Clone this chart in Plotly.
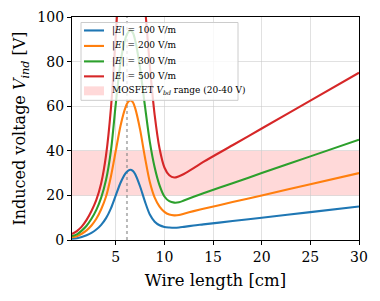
import plotly.graph_objects as go

wire_len = [0.5, 1, 1.5, 2, 2.5, 3, 3.5, 4, 4.5, 5, 5.5, 6, 6.25, 6.5, 6.75, 7, 7.5, 8, 8.5, 9, 9.5, 10, 10.5, 11, 11.5, 12, 13, 14, 17, 20, 25, 30]
v_100 = [0.55, 0.8, 1.35, 2.1, 3.2, 4.7, 6.8, 9.8, 14.2, 20.0, 25.8, 29.9, 31.0, 31.5, 31.0, 29.5, 24.0, 17.2, 11.4, 8.2, 6.6, 5.85, 5.6, 5.5, 5.6, 5.9, 6.5, 7.0, 8.5, 10.0, 12.5, 15.0]
v_200 = [1.2, 1.7, 2.8, 4.3, 6.5, 9.5, 13.8, 19.5, 28.5, 40.0, 51.5, 59.5, 61.8, 62.6, 61.8, 59.0, 49.5, 37.0, 26.0, 19.0, 15.0, 12.6, 11.4, 11.05, 11.2, 11.8, 12.95, 14.0, 17.0, 20.0, 25.0, 30.0]
v_300 = [1.8, 2.5, 4.2, 6.4, 9.5, 13.5, 19.0, 27.0, 40.0, 61.0, 80.0, 90.5, 93.0, 94.0, 93.0, 89.5, 77.0, 60.0, 44.0, 32.5, 24.5, 19.5, 17.4, 16.75, 16.9, 17.7, 19.4, 21.0, 25.5, 30.0, 37.5, 45.0]
v_500 = [2.7, 4.0, 6.0, 9.0, 13.0, 18.0, 25.5, 38.0, 59.0, 92.0, 125.0, 147.0, 154.0, 157.0, 155.0, 150.0, 130.0, 105.0, 78.0, 56.0, 41.0, 32.5, 29.0, 28.0, 28.6, 29.6, 32.2, 35.0, 42.5, 50.0, 62.5, 75.0]
series_names = ["|<i>E</i>| = 100 V/m", "|<i>E</i>| = 200 V/m", "|<i>E</i>| = 300 V/m", "|<i>E</i>| = 500 V/m"]
band_range = [20, 40]
band_name = "MOSFET <i>V</i><sub><i>bd</i></sub> range (20-40 V)"
resonance_len = 6.15
x_range = [0.5, 30]
y_range = [0, 100]
x_ticks = [5, 10, 15, 20, 25, 30]
y_ticks = [0, 20, 40, 60, 80, 100]

colors = ["#1f77b4", "#ff7f0e", "#2ca02c", "#d62728"]
band_color = "rgba(255,0,0,0.15)"
font_family = "DejaVu Serif"

fig = go.Figure()

# shaded band
fig.add_hrect(y0=band_range[0], y1=band_range[1], fillcolor=band_color, line_width=0, layer="below")

# resonance marker
fig.add_trace(go.Scatter(
    x=[resonance_len, resonance_len], y=y_range, mode="lines",
    line=dict(color="rgba(128,128,128,0.55)", width=2, dash="dot"),
    showlegend=False, hoverinfo="skip"))

for i, (vals, nm) in enumerate(zip([v_100, v_200, v_300, v_500], series_names)):
    fig.add_trace(go.Scatter(
        x=wire_len, y=vals, mode="lines", name=nm, showlegend=False,
        line=dict(color=colors[i], width=2.1, shape="spline", smoothing=0.8)))

axis_common = dict(
    showline=True, linecolor="black", linewidth=1.2, mirror=True,
    ticks="outside", ticklen=4, tickwidth=1.2, tickcolor="black",
    showgrid=True, gridcolor="rgba(200,200,200,0.55)", gridwidth=1,
    zeroline=False, automargin=False,
    tickfont=dict(family=font_family, size=14, color="black"),
)

fig.update_xaxes(range=x_range, tickvals=x_ticks,
                 title=dict(text="Wire length [cm]", font=dict(family=font_family, size=16.5, color="black"), standoff=10),
                 **axis_common)
fig.update_yaxes(range=y_range, tickvals=y_ticks,
                 title=dict(text="Induced voltage <i>V</i><sub><i>ind</i></sub> [V]", font=dict(family=font_family, size=16, color="black"), standoff=7),
                 **axis_common)

# manual legend (matplotlib-like compact layout)
W, H, L0, T0 = 287.0, 223.5, 72.0, 16.5
def px(x):
    return (x - L0) / W
def py(y):
    return (T0 + H - y) / H

shapes = [dict(type="rect", xref="paper", yref="paper",
               x0=px(81), x1=px(238), y0=py(100), y1=py(22),
               fillcolor="rgba(255,255,255,0.8)", line=dict(color="rgba(204,204,204,1)", width=1),
               layer="above")]
row_y = [30, 45.5, 61, 76, 90.5]
for i in range(4):
    shapes.append(dict(type="line", xref="paper", yref="paper",
                       x0=px(84), x1=px(104), y0=py(row_y[i]), y1=py(row_y[i]),
                       line=dict(color=colors[i], width=2.1), layer="above"))
shapes.append(dict(type="rect", xref="paper", yref="paper",
                   x0=px(84), x1=px(104), y0=py(row_y[4] + 4.5), y1=py(row_y[4] - 4.5),
                   fillcolor=band_color, line=dict(width=0), layer="above"))
for s in shapes:
    fig.add_shape(**s)

for i, txt in enumerate(series_names + [band_name]):
    fig.add_annotation(xref="paper", yref="paper", x=px(110), y=py(row_y[i]),
                       text=txt, showarrow=False, xanchor="left", yanchor="middle",
                       font=dict(family=font_family, size=9, color="black"))

fig.update_layout(
    width=380, height=301,
    margin=dict(l=72, r=21, t=16.5, b=61),
    plot_bgcolor="white", paper_bgcolor="white",
    font=dict(family=font_family, color="black"),
    showlegend=False,
)

fig.write_html("out.html", config={"displayModeBar": False},
               post_script="document.body.style.margin='0';document.body.style.overflow='hidden';")
